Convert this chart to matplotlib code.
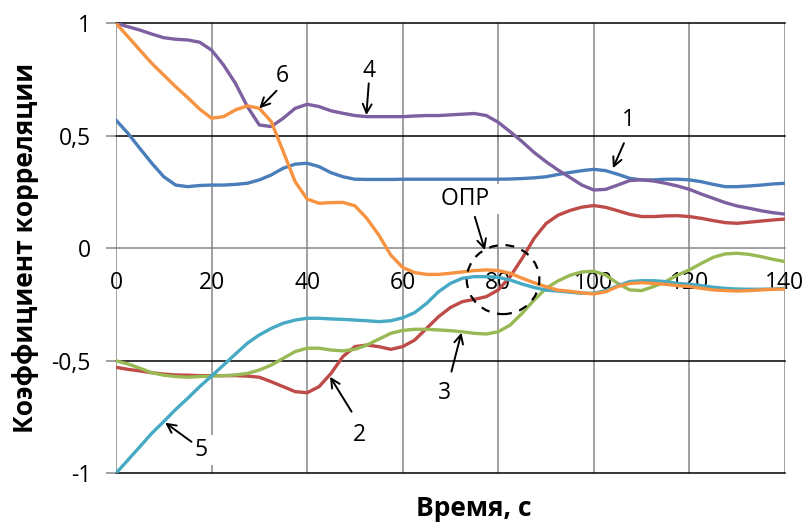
"""
correlation coefficients vs time, six curves with numbered callouts
"""
import matplotlib
matplotlib.use("Agg")
from matplotlib import pyplot as plt
from matplotlib.patches import Ellipse

plt.rcParams['font.family'] = ['Open Sans', 'DejaVu Sans']

time_s = [0, 2.5, 5, 7.5, 10, 12.5, 15, 17.5, 20, 22.5, 25, 27.5, 30, 32.5, 35,
          37.5, 40, 42.5, 45, 47.5, 50, 52.5, 55, 57.5, 60, 62.5, 65, 67.5, 70,
          72.5, 75, 77.5, 80, 82.5, 85, 87.5, 90, 92.5, 95, 97.5, 100, 102.5, 105,
          107.5, 110, 112.5, 115, 117.5, 120, 122.5, 125, 127.5, 130, 132.5, 135,
          137.5, 140]

curve1 = [0.570, 0.511, 0.444, 0.378, 0.318, 0.281, 0.274, 0.279, 0.281, 0.281,
          0.284, 0.289, 0.304, 0.326, 0.356, 0.374, 0.378, 0.363, 0.336, 0.318,
          0.307, 0.306, 0.306, 0.306, 0.307, 0.307, 0.307, 0.307, 0.307, 0.307,
          0.307, 0.307, 0.307, 0.308, 0.310, 0.313, 0.318, 0.328, 0.337, 0.345,
          0.351, 0.345, 0.329, 0.311, 0.304, 0.304, 0.307, 0.307, 0.304, 0.296,
          0.284, 0.274, 0.274, 0.277, 0.281, 0.286, 0.289]
curve2 = [-0.529, -0.538, -0.545, -0.553, -0.559, -0.563, -0.564, -0.566, -0.566, -0.566,
          -0.566, -0.568, -0.573, -0.593, -0.615, -0.637, -0.642, -0.615, -0.556, -0.481,
          -0.437, -0.430, -0.437, -0.449, -0.437, -0.408, -0.356, -0.304, -0.263, -0.237,
          -0.227, -0.215, -0.185, -0.126, -0.045, 0.044, 0.110, 0.147, 0.168, 0.183,
          0.190, 0.182, 0.167, 0.151, 0.141, 0.141, 0.144, 0.145, 0.141, 0.133,
          0.123, 0.114, 0.111, 0.116, 0.121, 0.126, 0.130]
curve3 = [-0.500, -0.514, -0.533, -0.553, -0.564, -0.570, -0.573, -0.570, -0.568, -0.566,
          -0.563, -0.556, -0.541, -0.519, -0.489, -0.459, -0.444, -0.444, -0.452, -0.456,
          -0.449, -0.430, -0.404, -0.378, -0.365, -0.360, -0.360, -0.363, -0.366, -0.371,
          -0.378, -0.381, -0.371, -0.341, -0.289, -0.230, -0.178, -0.145, -0.120, -0.105,
          -0.102, -0.119, -0.156, -0.185, -0.188, -0.170, -0.148, -0.119, -0.096, -0.067,
          -0.040, -0.025, -0.022, -0.027, -0.037, -0.049, -0.059]
curve4 = [1.000, 0.985, 0.970, 0.952, 0.936, 0.929, 0.926, 0.916, 0.881, 0.815,
          0.733, 0.630, 0.548, 0.541, 0.578, 0.622, 0.640, 0.630, 0.611, 0.600,
          0.590, 0.585, 0.585, 0.585, 0.585, 0.588, 0.590, 0.590, 0.593, 0.596,
          0.599, 0.590, 0.560, 0.518, 0.474, 0.426, 0.385, 0.348, 0.315, 0.281,
          0.259, 0.262, 0.281, 0.301, 0.304, 0.299, 0.289, 0.277, 0.262, 0.241,
          0.222, 0.203, 0.188, 0.178, 0.167, 0.158, 0.152]
curve5 = [-1.000, -0.941, -0.882, -0.822, -0.770, -0.716, -0.667, -0.615, -0.568, -0.519,
          -0.470, -0.422, -0.385, -0.356, -0.333, -0.319, -0.311, -0.311, -0.314, -0.316,
          -0.319, -0.322, -0.326, -0.322, -0.309, -0.286, -0.245, -0.193, -0.156, -0.133,
          -0.126, -0.126, -0.129, -0.141, -0.159, -0.174, -0.186, -0.190, -0.195, -0.200,
          -0.200, -0.188, -0.167, -0.148, -0.144, -0.144, -0.148, -0.156, -0.160, -0.166,
          -0.173, -0.178, -0.181, -0.182, -0.182, -0.181, -0.178]
curve6 = [1.000, 0.941, 0.881, 0.822, 0.770, 0.718, 0.670, 0.619, 0.578, 0.585,
          0.615, 0.633, 0.622, 0.563, 0.430, 0.296, 0.219, 0.200, 0.203, 0.204,
          0.189, 0.133, 0.059, -0.030, -0.085, -0.108, -0.116, -0.116, -0.111, -0.105,
          -0.099, -0.096, -0.099, -0.111, -0.133, -0.153, -0.171, -0.186, -0.191, -0.198,
          -0.203, -0.193, -0.170, -0.156, -0.153, -0.156, -0.160, -0.166, -0.170, -0.178,
          -0.185, -0.188, -0.190, -0.188, -0.185, -0.182, -0.181]

curves = [curve1, curve2, curve3, curve4, curve5, curve6]
colors = ["#4A7EBB", "#BE4B48", "#98B954", "#7D60A0", "#46AAC5", "#F69240"]

x_ticks = [0, 20, 40, 60, 80, 100, 120, 140]
y_ticks = [-1, -0.5, 0, 0.5, 1]
y_tick_labels = ["-1", "-0,5", "0", "0,5", "1"]

# callouts: label, text position, arrow tail, arrow tip (data units)
callout_labels = ["6", "4", "1", "ОПР", "3", "2", "5"]
callout_text = [(34.9, 0.766), (51.8, 0.788), (106.0, 0.570), (68.1, 0.219),
                (68.8, -0.643), (51.0, -0.830), (16.6, -0.896)]
callout_tail = [(33.6, 0.700), (52.9, 0.733), (106.3, 0.467), (75.1, 0.140),
                (70.2, -0.548), (49.3, -0.726), (15.8, -0.860)]
callout_tip = [(30.0, 0.622), (52.4, 0.592), (104.0, 0.356), (77.2, -0.008),
               (72.3, -0.375), (44.8, -0.571), (10.3, -0.775)]
callout_pad = ["", "   ", "    ", "  ", "", "", "  "]

fig = plt.figure(figsize=(8.07, 5.27), dpi=100)
ax = fig.add_axes([0.1437, 0.1019, 0.829, 0.8539])

for i, (c, col) in enumerate(zip(curves, colors)):
    ax.plot(time_s, c, color=col, lw=2.4, zorder=3 + i * 0.1,
            solid_joinstyle="round", solid_capstyle="round")

ax.set_xlim(0, 140)
ax.set_ylim(-1, 1)
ax.set_xticks(x_ticks)
ax.set_yticks(y_ticks)
ax.set_yticklabels(y_tick_labels)

# grid: gray verticals, black horizontals
for xv in x_ticks:
    ax.axvline(xv, color="#868686", lw=1.1, zorder=1)
for yv in [-1, -0.5, 0.5, 1]:
    ax.axhline(yv, color="black", lw=1.1, zorder=1.2, clip_on=False)

for s in ["top", "right", "left"]:
    ax.spines[s].set_visible(False)
ax.spines["bottom"].set_position(("data", 0))
ax.spines["bottom"].set_color("#868686")
ax.spines["bottom"].set_linewidth(1.1)
ax.spines["bottom"].set_zorder(1.1)

ax.tick_params(axis="x", length=0, pad=16, labelsize=16.5)
ax.tick_params(axis="y", length=7, width=1.1, color="#868686", pad=11, labelsize=16.5)

for lab, tpos, tail, tip, pad in zip(callout_labels, callout_text, callout_tail,
                                     callout_tip, callout_pad):
    ha = "left" if pad else "center"
    ax.text(tpos[0], tpos[1], lab + pad, ha=ha, va="center", fontsize=16.5, zorder=2,
            bbox=dict(fc="white", ec="none", pad=2))
    ax.annotate("", xy=tip, xytext=tail, zorder=5,
                arrowprops=dict(arrowstyle="->", color="black", lw=1.4,
                                shrinkA=0, shrinkB=0, mutation_scale=16))

ax.add_patch(Ellipse((81.0, -0.139), 15.2, 0.307, fill=False, ec="black",
                     lw=1.6, ls=(0, (4, 3.5)), zorder=6))

fig.text(0.032, 0.530, "Коэффициент корреляции", rotation=90, ha="center",
         va="center", fontsize=19, fontweight="bold")
fig.text(0.587, 0.020, "Время, с", ha="center", va="baseline",
         fontsize=19, fontweight="bold")

fig.savefig("out.png", dpi=100)
